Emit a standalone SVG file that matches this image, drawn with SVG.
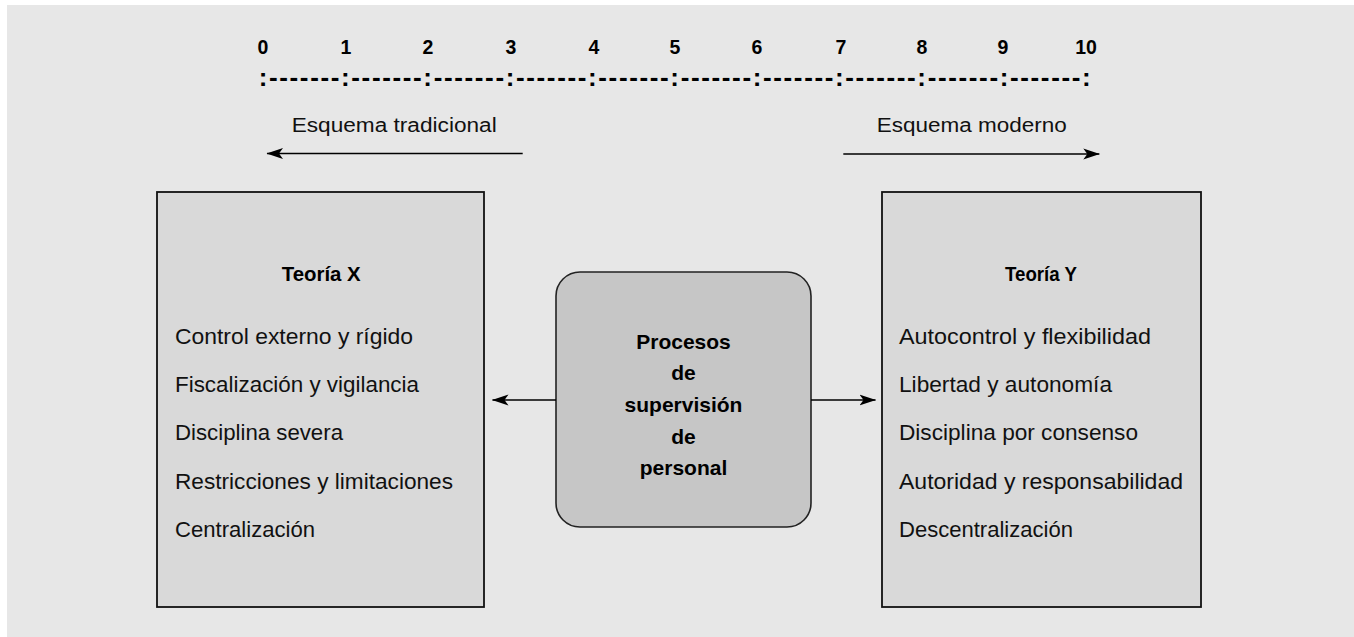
<svg xmlns="http://www.w3.org/2000/svg" width="1354" height="637" viewBox="0 0 1354 637">
  <style>
    .reg { font-family: "Liberation Sans", Arial, sans-serif; font-size: 21.5px; fill: #111; }
    .lbl { font-family: "Liberation Sans", Arial, sans-serif; font-size: 20px; fill: #111; }
    .bold { font-family: "Liberation Sans", Arial, sans-serif; font-weight: bold; font-size: 21px; fill: #000; }
    .num { font-family: "Liberation Sans", Arial, sans-serif; font-weight: bold; font-size: 19.5px; fill: #000; text-anchor: middle; }
    .scale { font-family: "Liberation Sans", Arial, sans-serif; font-weight: bold; font-size: 26px; fill: #000; }
    .box { fill: #d9d9d9; stroke: #111; stroke-width: 1.8; }
    .center { fill: #c6c6c6; stroke: #222; stroke-width: 1.6; }
    .conn { stroke: #000; stroke-width: 1.5; fill: none; marker-end: url(#arrow); }
  </style>
  <defs>
    <marker id="arrow" markerUnits="userSpaceOnUse" markerWidth="17" markerHeight="12" viewBox="0 0 17 12" refX="16" refY="6" orient="auto">
      <path d="M0,0.5 L16.5,6 L0,11.5 L4,6 Z" fill="#000"/>
    </marker>
  </defs>

  <rect x="7" y="5" width="1347" height="632" fill="#e7e7e7"/>

  <g id="scale">
    <text class="num" x="263" y="53.5">0</text>
    <text class="num" x="346" y="53.5">1</text>
    <text class="num" x="428" y="53.5">2</text>
    <text class="num" x="511" y="53.5">3</text>
    <text class="num" x="594" y="53.5">4</text>
    <text class="num" x="675" y="53.5">5</text>
    <text class="num" x="757" y="53.5">6</text>
    <text class="num" x="841" y="53.5">7</text>
    <text class="num" x="922" y="53.5">8</text>
    <text class="num" x="1003" y="53.5">9</text>
    <text class="num" x="1086" y="53.5">10</text>
    <text class="scale" x="258.7" y="85.5" textLength="832" lengthAdjust="spacing">:-------:-------:-------:-------:-------:-------:-------:-------:-------:-------:</text>
  </g>

  <g id="label-tradicional">
    <text class="lbl" x="291.7" y="131.7" textLength="205" lengthAdjust="spacingAndGlyphs">Esquema tradicional</text>
  </g>
  <g id="label-moderno">
    <text class="lbl" x="876.7" y="131.7" textLength="190" lengthAdjust="spacingAndGlyphs">Esquema moderno</text>
  </g>

  <g id="teoria-x">
    <rect class="box" x="157" y="192" width="327" height="415"/>
    <text class="bold" x="281.7" y="281" textLength="79" lengthAdjust="spacingAndGlyphs">Teoría X</text>
    <text class="reg" x="175" y="343.5" textLength="238" lengthAdjust="spacingAndGlyphs">Control externo y rígido</text>
    <text class="reg" x="175" y="392" textLength="244" lengthAdjust="spacingAndGlyphs">Fiscalización y vigilancia</text>
    <text class="reg" x="175" y="440.3" textLength="168" lengthAdjust="spacingAndGlyphs">Disciplina severa</text>
    <text class="reg" x="175" y="488.6" textLength="278" lengthAdjust="spacingAndGlyphs">Restricciones y limitaciones</text>
    <text class="reg" x="175" y="537" textLength="140" lengthAdjust="spacingAndGlyphs">Centralización</text>
  </g>

  <g id="teoria-y">
    <rect class="box" x="882" y="192" width="319" height="415"/>
    <text class="bold" x="1005" y="281" textLength="72" lengthAdjust="spacingAndGlyphs">Teoría Y</text>
    <text class="reg" x="899" y="343.5" textLength="252" lengthAdjust="spacingAndGlyphs">Autocontrol y flexibilidad</text>
    <text class="reg" x="899" y="392" textLength="213" lengthAdjust="spacingAndGlyphs">Libertad y autonomía</text>
    <text class="reg" x="899" y="440.3" textLength="239" lengthAdjust="spacingAndGlyphs">Disciplina por consenso</text>
    <text class="reg" x="899" y="488.6" textLength="284" lengthAdjust="spacingAndGlyphs">Autoridad y responsabilidad</text>
    <text class="reg" x="899" y="537" textLength="174" lengthAdjust="spacingAndGlyphs">Descentralización</text>
  </g>

  <g id="procesos">
    <rect class="center" x="556" y="272" width="255" height="255" rx="24" ry="24"/>
    <text class="bold" x="683.5" y="348.5" text-anchor="middle">Procesos</text>
    <text class="bold" x="683.5" y="380" text-anchor="middle">de</text>
    <text class="bold" x="683.5" y="412" text-anchor="middle">supervisión</text>
    <text class="bold" x="683.5" y="443.5" text-anchor="middle">de</text>
    <text class="bold" x="683.5" y="475" text-anchor="middle">personal</text>
  </g>

  <g id="connectors">
    <line class="conn" x1="522.7" y1="153.5" x2="267" y2="153.5"/>
    <line class="conn" x1="843.3" y1="154" x2="1099.3" y2="154"/>
    <line class="conn" x1="556" y1="400" x2="492.5" y2="400"/>
    <line class="conn" x1="811" y1="400" x2="875.5" y2="400"/>
  </g>
</svg>
